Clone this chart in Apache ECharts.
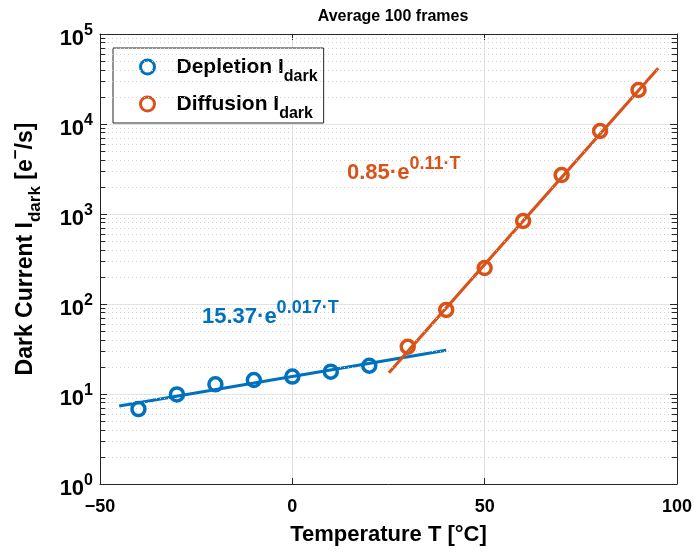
<!DOCTYPE html>
<html><head><meta charset="utf-8">
<script src="https://cdn.jsdelivr.net/npm/echarts@6/dist/echarts.min.js"></script>
<style>html,body{margin:0;padding:0;background:#fff}#c{width:697px;height:555px}</style>
</head><body><div id="c"></div>
<script>
// ---- data ----
const tempDepletion = [-40, -30, -20, -10, 0, 10, 20];
const idarkDepletion = [6.8, 9.9, 12.8, 14.3, 15.6, 17.7, 20.6];
const tempDiffusion = [30, 40, 50, 60, 70, 80, 90];
const idarkDiffusion = [33.5, 86, 251, 836, 2710, 8360, 23870];
// fit line end points
const fitDepletion = [[-45, 7.36], [40, 30.6]];
const fitDiffusion = [[25.1, 17.2], [95.1, 41600]];
const xTicks = [-50, 0, 50, 100];
const yDecades = [1, 10, 100, 1000, 10000, 100000];
const minorMantissa = [2, 3, 4, 5, 6, 7, 8, 9];
const seriesNames = ['Depletion', 'Diffusion'];
const fitLabels = ['15.37·e', '0.017·T', '0.85·e', '0.11·T'];

const blue = '#0072BD', orange = '#D95319', axisCol = '#262626';
const FONT = 'Liberation Sans, Arial, Helvetica, sans-serif';

const minorVals = [];
yDecades.slice(0, -1).forEach(d => minorMantissa.forEach(m => minorVals.push(m * d)));
const xMin = xTicks[0], xMax = xTicks[xTicks.length - 1];
const tickLen = 1.4;
const minorGrid = minorVals.map(v => ({ yAxis: v }));
const minorTicks = [];
minorVals.forEach(v => {
  minorTicks.push([{ coord: [xMin, v] }, { coord: [xMin + tickLen, v] }]);
  minorTicks.push([{ coord: [xMax - tickLen, v] }, { coord: [xMax, v] }]);
});

const chart = echarts.init(document.getElementById('c'), null, { renderer: 'canvas' });
const option = {
  animation: false,
  textStyle: { fontFamily: FONT },
  title: {
    text: 'Average 100 frames', left: 388, top: 4, textAlign: 'center',
    textStyle: { fontSize: 16, fontWeight: 'bold', color: '#000', fontFamily: FONT }
  },
  grid: { left: 99, right: 20, top: 34, bottom: 71 },
  legend: {
    orient: 'vertical', left: 113, top: 48,
    padding: [1, 6, 1, 26], itemGap: 1,
    itemWidth: 48, itemHeight: 14,
    borderColor: axisCol, borderWidth: 1, backgroundColor: '#fff',
    data: [
      { name: seriesNames[0], icon: 'circle', itemStyle: { color: 'rgba(0,0,0,0)', borderColor: blue, borderWidth: 3 } },
      { name: seriesNames[1], icon: 'circle', itemStyle: { color: 'rgba(0,0,0,0)', borderColor: orange, borderWidth: 3 } }
    ],
    formatter: n => n + ' I{s|dark}',
    textStyle: {
      fontSize: 21, fontWeight: 'bold', color: '#000', lineHeight: 36, fontFamily: FONT,
      rich: { s: { fontSize: 16, fontWeight: 'bold', lineHeight: 16, verticalAlign: 'bottom', color: '#000', fontFamily: FONT } }
    }
  },
  xAxis: [{
    type: 'value', min: xMin, max: xMax, interval: 50,
    axisLine: { onZero: false, lineStyle: { color: axisCol, width: 1 } },
    axisTick: { inside: true, length: 6, lineStyle: { color: axisCol } },
    axisLabel: { fontSize: 18, fontWeight: 'bold', color: '#000', margin: 14, fontFamily: FONT,
      formatter: v => v < 0 ? '\u2212' + Math.abs(v) : String(v) },
    splitLine: { show: true, lineStyle: { color: '#e2e2e2', width: 1 } },
    name: 'Temperature T [°C]', nameLocation: 'middle', nameGap: 40,
    nameTextStyle: { fontSize: 22, fontWeight: 'bold', color: '#000', fontFamily: FONT }
  }, {
    type: 'value', position: 'top', min: xMin, max: xMax, interval: 50,
    axisLine: { show: true, onZero: false, lineStyle: { color: axisCol } },
    axisTick: { inside: true, length: 6, lineStyle: { color: axisCol } },
    axisLabel: { show: false }, splitLine: { show: false }
  }],
  yAxis: [{
    type: 'log', logBase: 10, min: 1, max: 100000,
    axisLine: { show: true, onZero: false, lineStyle: { color: axisCol } },
    axisTick: { show: true, inside: true, length: 7, lineStyle: { color: axisCol } },
    axisLabel: {
      margin: 7, padding: [9, 0, 0, 0],
      formatter: v => '{b|10}{s|' + Math.round(Math.log10(v)) + '}',
      rich: {
        b: { fontSize: 22, fontWeight: 'bold', color: '#000', lineHeight: 31, fontFamily: FONT },
        s: { fontSize: 16, fontWeight: 'bold', color: '#000', lineHeight: 16, verticalAlign: 'top', fontFamily: FONT }
      }
    },
    splitLine: { show: true, lineStyle: { color: '#e2e2e2', width: 1 } },
    name: '{m|Dark Current I}{s|dark}{m| [e}{p|\u2212}{m|/s]}',
    nameLocation: 'middle', nameRotate: 90, nameGap: 56,
    nameTextStyle: {
      padding: [0, 0, 0, 20],
      rich: {
        m: { fontSize: 23, fontWeight: 'bold', color: '#000', lineHeight: 36, fontFamily: FONT },
        s: { fontSize: 17, fontWeight: 'bold', color: '#000', lineHeight: 17, verticalAlign: 'bottom', fontFamily: FONT },
        p: { fontSize: 17, fontWeight: 'bold', color: '#000', lineHeight: 17, verticalAlign: 'top', fontFamily: FONT }
      }
    }
  }, {
    type: 'log', logBase: 10, min: 1, max: 100000, position: 'right',
    axisLine: { show: true, onZero: false, lineStyle: { color: axisCol } },
    axisTick: { show: true, inside: true, length: 7, lineStyle: { color: axisCol } },
    axisLabel: { show: false }, splitLine: { show: false }
  }],
  series: [
    {
      name: 'grid-helper', type: 'line', data: [], z: 1, silent: true,
      markLine: {
        silent: true, symbol: 'none', animation: false, label: { show: false },
        data: minorGrid,
        lineStyle: { color: '#d2d2d2', width: 1, type: [1, 3] }
      }
    },
    {
      name: 'tick-helper', type: 'line', data: [], z: 3, silent: true,
      markLine: {
        silent: true, symbol: 'none', animation: false, label: { show: false },
        data: minorTicks,
        lineStyle: { color: axisCol, width: 1, type: 'solid' }
      }
    },
    {
      name: 'fitDep', type: 'line', data: fitDepletion, showSymbol: false, symbol: 'none',
      lineStyle: { color: blue, width: 3.2 }, z: 4, silent: true
    },
    {
      name: 'fitDif', type: 'line', data: fitDiffusion, showSymbol: false, symbol: 'none',
      lineStyle: { color: orange, width: 3.2 }, z: 4, silent: true
    },
    {
      name: seriesNames[0], type: 'scatter', symbol: 'circle', symbolSize: 13, z: 5,
      data: tempDepletion.map((t, i) => [t, idarkDepletion[i]]),
      itemStyle: { color: 'rgba(0,0,0,0)', borderColor: blue, borderWidth: 3.5, opacity: 1 }
    },
    {
      name: seriesNames[1], type: 'scatter', symbol: 'circle', symbolSize: 13, z: 5,
      data: tempDiffusion.map((t, i) => [t, idarkDiffusion[i]]),
      itemStyle: { color: 'rgba(0,0,0,0)', borderColor: orange, borderWidth: 3.5, opacity: 1 }
    }
  ],
  graphic: [
    {
      type: 'text', left: 202, top: 299, z: 10,
      style: {
        text: '{b|' + fitLabels[0] + '}{s|' + fitLabels[1] + '}',
        rich: {
          b: { fontSize: 22, fontWeight: 'bold', fill: blue, lineHeight: 36, fontFamily: FONT },
          s: { fontSize: 18, fontWeight: 'bold', fill: blue, lineHeight: 18, verticalAlign: 'top', fontFamily: FONT }
        }
      }
    },
    {
      type: 'text', left: 347, top: 155, z: 10,
      style: {
        text: '{b|' + fitLabels[2] + '}{s|' + fitLabels[3] + '}',
        rich: {
          b: { fontSize: 22, fontWeight: 'bold', fill: orange, lineHeight: 36, fontFamily: FONT },
          s: { fontSize: 18, fontWeight: 'bold', fill: orange, lineHeight: 18, verticalAlign: 'top', fontFamily: FONT }
        }
      }
    }
  ]
};
chart.setOption(option);
</script>
</body></html>
